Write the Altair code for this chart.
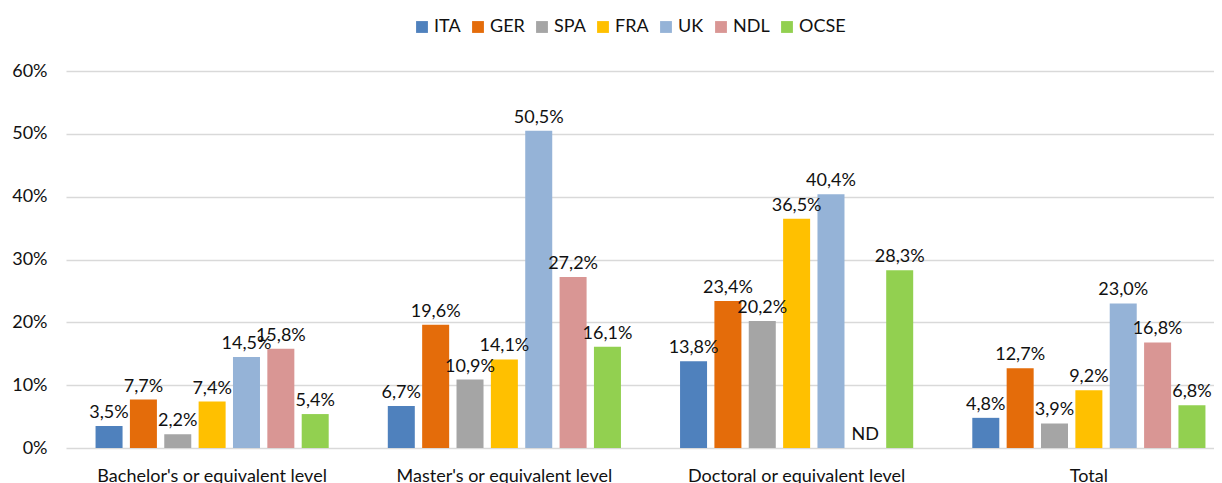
import altair as alt
import pandas as pd

categories = ["Bachelor's or equivalent level", "Master's or equivalent level",
              "Doctoral or equivalent level", "Total"]
series = ["ITA", "GER", "SPA", "FRA", "UK", "NDL", "OCSE"]
colors = ["#4F81BD", "#E46C0A", "#A5A5A5", "#FFC000", "#95B3D7", "#D99694", "#92D050"]

ITA = [3.5, 6.7, 13.8, 4.8]
GER = [7.7, 19.6, 23.4, 12.7]
SPA = [2.2, 10.9, 20.2, 3.9]
FRA = [7.4, 14.1, 36.5, 9.2]
UK = [14.5, 50.5, 40.4, 23.0]
NDL = [15.8, 27.2, None, 16.8]
OCSE = [5.4, 16.1, 28.3, 6.8]
missing_label = "ND"

values = dict(ITA=ITA, GER=GER, SPA=SPA, FRA=FRA, UK=UK, NDL=NDL, OCSE=OCSE)

rows = []
for s in series:
    for c, v in zip(categories, values[s]):
        rows.append({
            "category": c,
            "series": s,
            "value": None if v is None else v / 100,
            "ypos": 0 if v is None else v / 100,
            "label": missing_label if v is None else f"{v:.1f}%".replace(".", ","),
        })
df = pd.DataFrame(rows)

FONT = "Lato"
FS = 18
TXT = "#111111"

x = alt.X("category:N", sort=categories, title=None,
          scale=alt.Scale(range=[0, 1169], paddingInner=0, paddingOuter=0),
          axis=alt.Axis(labelAngle=0, domain=False, ticks=False, labelPadding=19,
                        labelFont=FONT, labelFontSize=FS, labelColor=TXT,
                        labelBaseline="top", labelLimit=0))
xo = alt.XOffset("series:N", sort=series,
                 scale=alt.Scale(paddingInner=0.214, paddingOuter=0.86))

bars = alt.Chart(df).mark_bar().encode(
    x=x,
    xOffset=xo,
    y=alt.Y("value:Q", title=None,
            scale=alt.Scale(domain=[0, 0.6]),
            axis=alt.Axis(values=[0, 0.1, 0.2, 0.3, 0.4, 0.5, 0.6], format=".0%",
                          domain=False, ticks=False, labelPadding=19,
                          gridColor="#D9D9D9", gridWidth=1.3,
                          labelFont=FONT, labelFontSize=FS, labelColor=TXT)),
    color=alt.Color("series:N", sort=series,
                    scale=alt.Scale(domain=series, range=colors),
                    legend=alt.Legend(title=None, orient="none", direction="horizontal",
                                      legendX=347, legendY=-53, symbolType="square",
                                      symbolSize=140, symbolStrokeWidth=0,
                                      labelFont=FONT, labelFontSize=FS, labelColor=TXT,
                                      labelOffset=3, columnPadding=8, padding=0)),
)

labels = alt.Chart(df).mark_text(baseline="alphabetic", dy=-8, font=FONT,
                                 fontSize=FS, color=TXT).encode(
    x=alt.X("category:N", sort=categories),
    xOffset=alt.XOffset("series:N", sort=series),
    y=alt.Y("ypos:Q"),
    text="label:N",
)

chart = (bars + labels).properties(
    width=1148, height=377,
    padding={"left": 58, "top": 63, "right": 0, "bottom": 40},
    autosize=alt.AutoSizeParams(type="none"),
).configure_view(stroke=None)

chart.save("out.html", embed_options={"renderer": "svg", "actions": False})
